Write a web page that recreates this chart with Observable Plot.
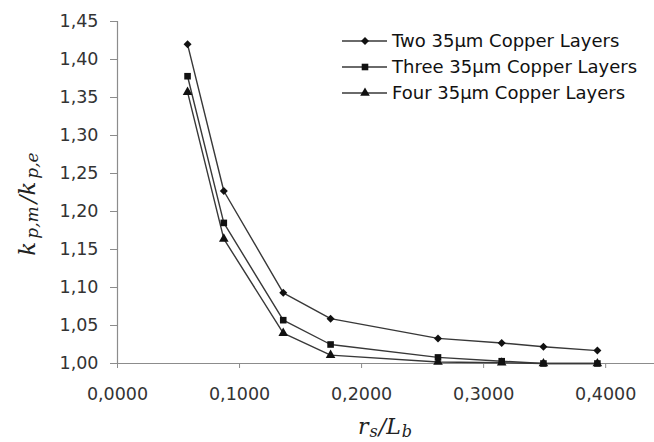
<!DOCTYPE html>
<html>
<head>
<meta charset="utf-8">
<script src="https://cdn.jsdelivr.net/npm/d3@7"></script>
<script src="https://cdn.jsdelivr.net/npm/@observablehq/plot@0.6"></script>
<style>
  html, body { margin: 0; padding: 0; background: #fff; }
  #chart svg { display: block; }
</style>
</head>
<body>
<div id="chart"></div>
<script>
// Ratio of measured to estimated pressure-drop coefficient versus r_s/L_b
const rsLb = [0.0574, 0.0871, 0.1358, 0.1746, 0.2626, 0.3148, 0.3490, 0.3932];
const twoLayers   = [1.420, 1.227, 1.093, 1.059, 1.033, 1.027, 1.022, 1.017];
const threeLayers = [1.378, 1.185, 1.057, 1.025, 1.008, 1.003, 1.000, 1.000];
const fourLayers  = [1.357, 1.164, 1.040, 1.011, 1.002, 1.001, 1.000, 1.000];
const seriesNames = ["Two 35µm Copper Layers", "Three 35µm Copper Layers", "Four 35µm Copper Layers"];
const xTicks = [0, 0.1, 0.2, 0.3, 0.4];
const yTicks = [1.00, 1.05, 1.10, 1.15, 1.20, 1.25, 1.30, 1.35, 1.40, 1.45];

const symbols = ["diamond2", "square2", "triangle2"];
const sizes = [3.6, 4.2, 4.6];

const seriesValues = [twoLayers, threeLayers, fourLayers];
const rows = seriesValues.flatMap((vals, i) =>
  vals.map((v, j) => ({series: seriesNames[i], x: rsLb[j], y: v})));

const comma = (d, n) => d.toFixed(n).replace(".", ",");
const axisGray = "#8c8c8c";
const textGray = "#333";
const sans = "'DejaVu Sans', sans-serif";
const serif = "'DejaVu Serif', serif";

const chart = Plot.plot({
  width: 654,
  height: 442,
  marginLeft: 117,
  marginRight: 0,
  marginTop: 21,
  marginBottom: 79,
  style: {fontFamily: sans, fontSize: "17.5px", background: "#fff"},
  x: {domain: [0, 0.44]},
  y: {domain: [1, 1.45]},
  symbol: {domain: seriesNames, range: symbols},
  marks: [
    Plot.axisX({ticks: xTicks, tickFormat: d => comma(d, 4), tickSize: 5, tickPadding: 19,
                stroke: axisGray, fill: textGray, label: null}),
    Plot.axisY({ticks: yTicks, tickFormat: d => comma(d, 2), tickSize: 7, tickPadding: 12,
                stroke: axisGray, fill: textGray, label: null}),
    Plot.ruleY([1], {stroke: axisGray, strokeWidth: 1.2}),
    Plot.ruleX([0], {stroke: axisGray, strokeWidth: 1.2}),
    Plot.line(rows, {x: "x", y: "y", z: "series", stroke: "#383838", strokeWidth: 1.4}),
    ...seriesNames.map((name, i) =>
      Plot.dot(rows.filter(d => d.series === name),
               {x: "x", y: "y", symbol: "series", r: sizes[i], fill: "#111", stroke: "none"}))
  ]
});

document.getElementById("chart").appendChild(chart);

// Axis titles with subscripts and the series legend
const svg = d3.select(chart);

function mathTitle(sel, parts, subSize, gap) {
  parts.forEach(([txt, sub]) => {
    const t = sel.append("tspan").text(txt).attr("dx", gap);
    if (sub) t.attr("baseline-shift", "-20%").style("font-size", subSize);
  });
}

const yTitle = svg.append("text")
  .attr("transform", "translate(35,207) rotate(-90)")
  .attr("text-anchor", "middle")
  .style("font-family", serif)
  .style("font-style", "italic")
  .style("font-size", "23px")
  .attr("fill", "#222");
mathTitle(yTitle, [["k", false], ["p,m", true], ["/k", false], ["p,e", true]], "17px", 3);

const xTitle = svg.append("text")
  .attr("x", 384).attr("y", 434)
  .attr("text-anchor", "middle")
  .style("font-family", serif)
  .style("font-style", "italic")
  .style("font-size", "22px")
  .attr("fill", "#222");
mathTitle(xTitle, [["r", false], ["s", true], ["/L", false], ["b", true]], "16px", 1);

const legend = svg.append("g");
seriesNames.forEach((name, i) => {
  const y = 41 + 26 * i;
  legend.append("line")
    .attr("x1", 342).attr("x2", 387).attr("y1", y).attr("y2", y)
    .attr("stroke", "#383838").attr("stroke-width", 1.4);
  const sym = d3.symbol(
    [d3.symbolDiamond2, d3.symbolSquare2, d3.symbolTriangle2][i],
    Math.PI * sizes[i] * sizes[i]);
  legend.append("path")
    .attr("transform", `translate(365,${y})`)
    .attr("d", sym())
    .attr("fill", "#111");
  legend.append("text")
    .attr("x", 392).attr("y", y)
    .attr("dy", "0.36em")
    .attr("text-anchor", "start")
    .style("font-family", sans)
    .style("font-size", "18px")
    .attr("fill", "#111")
    .text(name);
});
</script>
</body>
</html>
